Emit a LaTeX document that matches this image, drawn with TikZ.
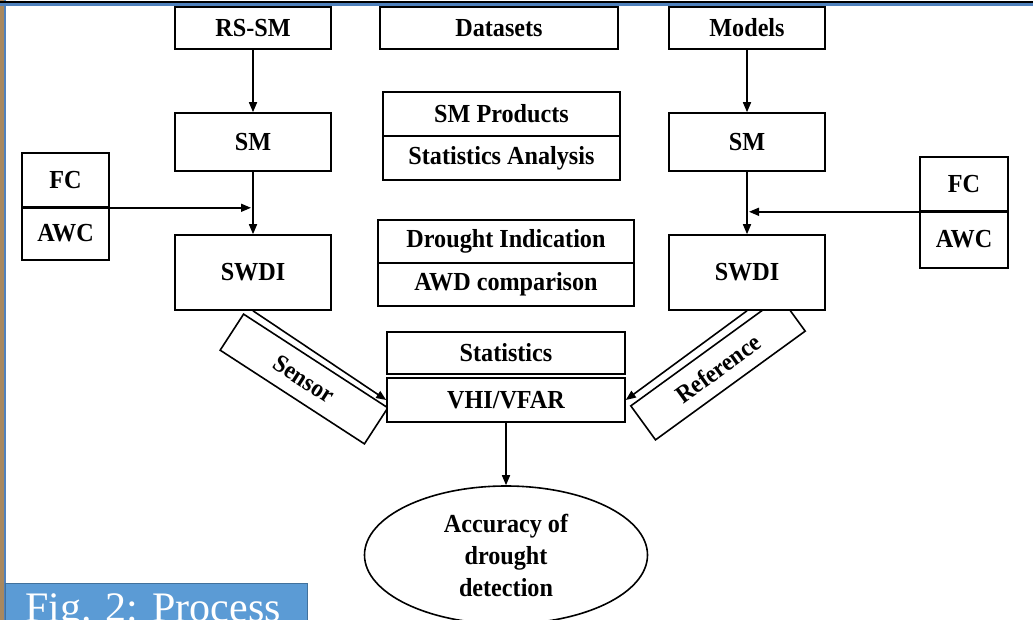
\documentclass[tikz,border=0pt]{standalone}
\usepackage{fontspec}
\setmainfont[FakeStretch=0.93]{Liberation Serif}
\newfontfamily\figfont{Liberation Serif}
\usetikzlibrary{arrows.meta,shapes.geometric}
\definecolor{figblue}{HTML}{5B9BD5}
\definecolor{figedge}{HTML}{41719C}
\definecolor{frameblue}{HTML}{4F81BD}
\definecolor{strip}{HTML}{A8885F}
\begin{document}
\begin{tikzpicture}[x=1pt,y=-1pt,
  box/.style n args={2}{draw,fill=white,line width=1.6pt,minimum width=#1pt,minimum height=#2pt,inner sep=0pt,font=\bfseries\fontsize{26}{30}\selectfont},
  tag/.style n args={3}{draw,fill=white,line width=1.6pt,minimum width=#1pt,minimum height=#2pt,inner sep=0pt,rotate=#3,font=\bfseries\fontsize{25}{29}\selectfont},
  arr/.style={line width=1.6pt,-{Triangle[length=10pt,width=8pt]}},
  plain/.style={line width=1.6pt}
]
\useasboundingbox (0,0) rectangle (1033,620);
\fill[white] (0,0) rectangle (1033,620);
% slide frame
\fill[strip] (0,0) rectangle (4,620);
\draw[frameblue,line width=2pt] (5,0) -- (5,620);
\draw[black,line width=1.5pt] (0,2) -- (1033,2);
\draw[frameblue,line width=2.4pt] (0,4.5) -- (1033,4.5);

% tilted tags (drawn first, so boxes overlap them)
\node[tag={172}{43}{-33}] (sensor) at (304,379) {Sensor};
\node[tag={185}{42}{36}] (reference) at (718,368.5) {Reference};

% top row
\node[box={156}{42}] (rssm) at (253,28) {RS-SM};
\node[box={238}{42}] (datasets) at (499,28) {Datasets};
\node[box={156}{42}] (models) at (747,28) {Models};

% second row
\node[box={156}{58}] (sml) at (253,142) {SM};
\node[box={156}{58}] (smr) at (747,142) {SM};
\node[box={237}{44}] (smprod) at (501.5,114) {SM Products};
\node[box={237}{44}] (statan) at (501.5,158) {Statistics Analysis};

% FC / AWC
\node[box={87}{54}] (fcl) at (65.5,180) {FC};
\node[box={87}{53}] (awcl) at (65.5,233.5) {AWC};
\node[box={88}{54}] (fcr) at (964,184) {FC};
\node[box={88}{57}] (awcr) at (964,239.5) {AWC};

% third row
\node[box={156}{75}] (swdil) at (253,272.5) {SWDI};
\node[box={156}{75}] (swdir) at (747,272.5) {SWDI};
\node[box={256}{43}] (drought) at (506,241.5) {Drought Indication};
\node[box={256}{43}] (awd) at (506,284.5) {AWD comparison};

% statistics
\node[box={238}{42}] (stats) at (506,353) {Statistics};
\node[box={238}{44}] (vhi) at (506,400) {VHI/VFAR};

% ellipse
\node[draw,ellipse,line width=1.6pt,minimum width=283pt,minimum height=138pt,inner sep=0pt,
      align=center,font=\bfseries\fontsize{26}{32}\selectfont] (acc) at (506,555)
      {Accuracy of\\drought\\detection};

% connectors
\draw[arr] (rssm.south) -- (sml.north);
\draw[arr] (models.south) -- (smr.north);
\draw[arr] (sml.south) -- (swdil.north);
\draw[arr] (smr.south) -- (swdir.north);
\draw[arr] (fcl.south west) -- ([xshift=-2pt]fcl.south west -| sml.south);
\draw[arr] (fcr.south east) -- ([xshift=2pt]fcr.south east -| smr.south);
\draw[arr] (swdil.south) -- (vhi.west);
\draw[arr] (swdir.south) -- (vhi.east);
\draw[arr] (vhi.south) -- (acc.north);

% caption tab
\draw[fill=figblue,draw=figedge,line width=1pt] (5,583) rectangle (307,625);
\node[anchor=base west,text=white,inner sep=0pt,font=\figfont\fontsize{42}{48}\selectfont] (figlbl) at (25,621) {Fig. 2: Process};
\end{tikzpicture}
\end{document}
